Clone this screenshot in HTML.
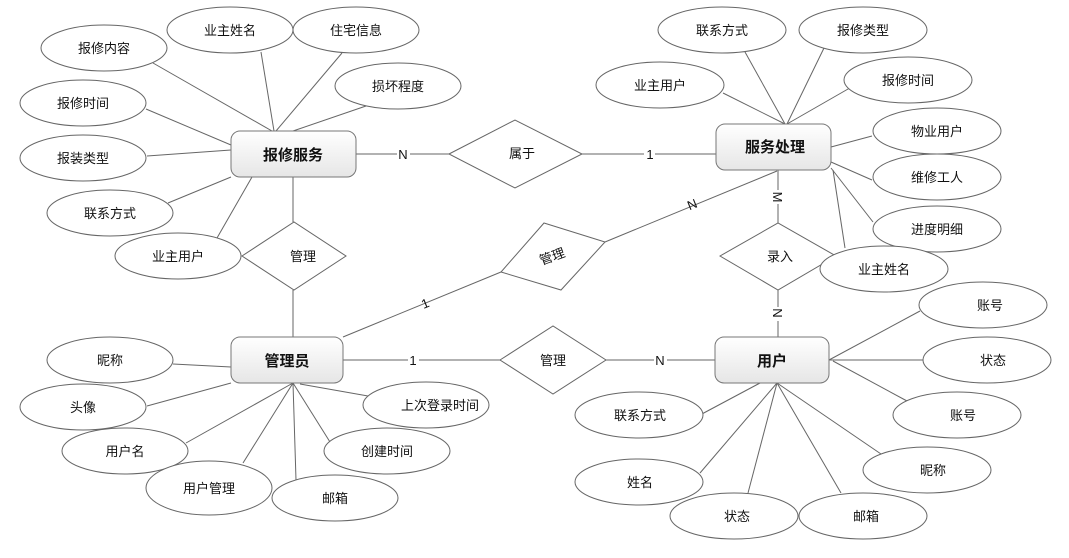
<!DOCTYPE html>
<html><head><meta charset="utf-8"><style>
html,body{margin:0;padding:0;background:#fff;}
svg{display:block;}
text{font-family:"Liberation Sans","Noto Sans CJK SC",sans-serif;font-size:13px;fill:#111;}
.b{font-size:15px;font-weight:bold;}
.e{fill:#fff;stroke:#666;stroke-width:1;}
.l{stroke:#666;stroke-width:1;fill:none;}
.r{fill:url(#g);stroke:#777;stroke-width:1;}
</style></head><body>
<svg width="1069" height="558" viewBox="0 0 1069 558" xmlns="http://www.w3.org/2000/svg">
<defs>
<linearGradient id="g" x1="0" y1="0" x2="0" y2="1"><stop offset="0" stop-color="#ffffff"/><stop offset="1" stop-color="#e6e6e6"/></linearGradient>
</defs>
<g class="l">
<line x1="153" y1="63" x2="272" y2="131"/>
<line x1="261" y1="52" x2="274" y2="131"/>
<line x1="342" y1="53" x2="276" y2="131"/>
<line x1="366" y1="106" x2="293" y2="131"/>
<line x1="146" y1="109" x2="231" y2="145"/>
<line x1="147" y1="156" x2="231" y2="150"/>
<line x1="168" y1="203" x2="231" y2="177"/>
<line x1="217" y1="238" x2="252" y2="177"/>
<line x1="293" y1="177" x2="293" y2="222"/>
<line x1="293" y1="290" x2="293" y2="337"/>
<line x1="356" y1="154" x2="449" y2="154"/>
<line x1="582" y1="154" x2="716" y2="154"/>
<line x1="723" y1="93" x2="785" y2="124"/>
<line x1="745" y1="52" x2="785" y2="124"/>
<line x1="824" y1="48" x2="787" y2="124"/>
<line x1="855" y1="85" x2="787" y2="124"/>
<line x1="872" y1="136" x2="831" y2="147"/>
<line x1="872" y1="180" x2="831" y2="162"/>
<line x1="873" y1="222" x2="831" y2="168"/>
<line x1="845" y1="248" x2="833" y2="170"/>
<line x1="778" y1="170" x2="778" y2="223"/>
<line x1="778" y1="290" x2="778" y2="337"/>
<line x1="605" y1="242" x2="777" y2="171"/>
<line x1="343" y1="337" x2="501" y2="272"/>
<line x1="343" y1="360" x2="500" y2="360"/>
<line x1="606" y1="360" x2="715" y2="360"/>
<line x1="173" y1="364" x2="231" y2="367"/>
<line x1="147" y1="406" x2="231" y2="383"/>
<line x1="186" y1="443" x2="293" y2="383"/>
<line x1="243" y1="463" x2="293" y2="383"/>
<line x1="296" y1="480" x2="293" y2="383"/>
<line x1="330" y1="442" x2="293" y2="383"/>
<line x1="368" y1="396" x2="300" y2="384"/>
<line x1="920" y1="311" x2="829" y2="360"/>
<line x1="923" y1="360" x2="829" y2="360"/>
<line x1="907" y1="401" x2="833" y2="361"/>
<line x1="881" y1="454" x2="777" y2="383"/>
<line x1="841" y1="493" x2="777" y2="383"/>
<line x1="748" y1="493" x2="777" y2="383"/>
<line x1="700" y1="473" x2="777" y2="383"/>
<line x1="700" y1="415" x2="760" y2="383"/>
</g>
<polygon class="e" points="449,154 515,120 582,154 515,188"/>
<polygon class="e" points="242,256 294,222 346,256 294,290"/>
<polygon class="e" points="544,223 605,242 561,290 501,272"/>
<polygon class="e" points="720,256 778,223 836,256 778,290"/>
<polygon class="e" points="500,360 553,326 606,360 553,394"/>
<text x="522" y="158" text-anchor="middle">属于</text>
<text x="303" y="261" text-anchor="middle">管理</text>
<text x="552" y="261" text-anchor="middle" transform="rotate(-20 552 256)">管理</text>
<text x="780" y="261" text-anchor="middle">录入</text>
<text x="553" y="365" text-anchor="middle">管理</text>
<rect x="397" y="146" width="13" height="14" fill="#fff"/><text x="403" y="159" text-anchor="middle">N</text>
<rect x="644" y="146" width="11" height="14" fill="#fff"/><text x="650" y="159" text-anchor="middle">1</text>
<rect x="408" y="352" width="11" height="14" fill="#fff"/><text x="413" y="365" text-anchor="middle">1</text>
<rect x="654" y="352" width="13" height="14" fill="#fff"/><text x="660" y="365" text-anchor="middle">N</text>
<rect x="771" y="190" width="14" height="14" fill="#fff"/><text x="778" y="202" text-anchor="middle" transform="rotate(90 778 197)">M</text>
<rect x="771" y="307" width="14" height="14" fill="#fff"/><text x="778" y="318" text-anchor="middle" transform="rotate(90 778 313)">N</text>
<text x="692" y="209" text-anchor="middle" transform="rotate(-22 692 204)">N</text>
<text x="425" y="308" text-anchor="middle" transform="rotate(-22 425 303)">1</text>
<ellipse class="e" cx="104" cy="48" rx="63" ry="23"/><text x="104" y="53" text-anchor="middle">报修内容</text>
<ellipse class="e" cx="230" cy="30" rx="63" ry="23"/><text x="230" y="35" text-anchor="middle">业主姓名</text>
<ellipse class="e" cx="356" cy="30" rx="63" ry="23"/><text x="356" y="35" text-anchor="middle">住宅信息</text>
<ellipse class="e" cx="398" cy="86" rx="63" ry="23"/><text x="398" y="91" text-anchor="middle">损坏程度</text>
<ellipse class="e" cx="83" cy="103" rx="63" ry="23"/><text x="83" y="108" text-anchor="middle">报修时间</text>
<ellipse class="e" cx="83" cy="158" rx="63" ry="23"/><text x="83" y="163" text-anchor="middle">报装类型</text>
<ellipse class="e" cx="110" cy="213" rx="63" ry="23"/><text x="110" y="218" text-anchor="middle">联系方式</text>
<ellipse class="e" cx="178" cy="256" rx="63" ry="23"/><text x="178" y="261" text-anchor="middle">业主用户</text>
<ellipse class="e" cx="722" cy="30" rx="64" ry="23"/><text x="722" y="35" text-anchor="middle">联系方式</text>
<ellipse class="e" cx="863" cy="30" rx="64" ry="23"/><text x="863" y="35" text-anchor="middle">报修类型</text>
<ellipse class="e" cx="660" cy="85" rx="64" ry="23"/><text x="660" y="90" text-anchor="middle">业主用户</text>
<ellipse class="e" cx="908" cy="80" rx="64" ry="23"/><text x="908" y="85" text-anchor="middle">报修时间</text>
<ellipse class="e" cx="937" cy="131" rx="64" ry="23"/><text x="937" y="136" text-anchor="middle">物业用户</text>
<ellipse class="e" cx="937" cy="177" rx="64" ry="23"/><text x="937" y="182" text-anchor="middle">维修工人</text>
<ellipse class="e" cx="937" cy="229" rx="64" ry="23"/><text x="937" y="234" text-anchor="middle">进度明细</text>
<ellipse class="e" cx="884" cy="269" rx="64" ry="23"/><text x="884" y="274" text-anchor="middle">业主姓名</text>
<ellipse class="e" cx="110" cy="360" rx="63" ry="23"/><text x="110" y="365" text-anchor="middle">昵称</text>
<ellipse class="e" cx="83" cy="407" rx="63" ry="23"/><text x="83" y="412" text-anchor="middle">头像</text>
<ellipse class="e" cx="125" cy="451" rx="63" ry="23"/><text x="125" y="456" text-anchor="middle">用户名</text>
<ellipse class="e" cx="209" cy="488" rx="63" ry="27"/><text x="209" y="493" text-anchor="middle">用户管理</text>
<ellipse class="e" cx="335" cy="498" rx="63" ry="23"/><text x="335" y="503" text-anchor="middle">邮箱</text>
<ellipse class="e" cx="387" cy="451" rx="63" ry="23"/><text x="387" y="456" text-anchor="middle">创建时间</text>
<ellipse class="e" cx="426" cy="405" rx="63" ry="23"/><text x="440" y="410" text-anchor="middle">上次登录时间</text>
<ellipse class="e" cx="983" cy="305" rx="64" ry="23"/><text x="990" y="310" text-anchor="middle">账号</text>
<ellipse class="e" cx="987" cy="360" rx="64" ry="23"/><text x="993" y="365" text-anchor="middle">状态</text>
<ellipse class="e" cx="957" cy="415" rx="64" ry="23"/><text x="963" y="420" text-anchor="middle">账号</text>
<ellipse class="e" cx="927" cy="470" rx="64" ry="23"/><text x="933" y="475" text-anchor="middle">昵称</text>
<ellipse class="e" cx="863" cy="516" rx="64" ry="23"/><text x="866" y="521" text-anchor="middle">邮箱</text>
<ellipse class="e" cx="734" cy="516" rx="64" ry="23"/><text x="737" y="521" text-anchor="middle">状态</text>
<ellipse class="e" cx="639" cy="482" rx="64" ry="23"/><text x="640" y="487" text-anchor="middle">姓名</text>
<ellipse class="e" cx="639" cy="415" rx="64" ry="23"/><text x="640" y="420" text-anchor="middle">联系方式</text>
<rect class="r" x="231" y="131" width="125" height="46" rx="9"/><text class="b" x="293" y="160" text-anchor="middle">报修服务</text>
<rect class="r" x="716" y="124" width="115" height="46" rx="9"/><text class="b" x="775" y="152" text-anchor="middle">服务处理</text>
<rect class="r" x="231" y="337" width="112" height="46" rx="9"/><text class="b" x="287" y="366" text-anchor="middle">管理员</text>
<rect class="r" x="715" y="337" width="114" height="46" rx="9"/><text class="b" x="772" y="366" text-anchor="middle">用户</text>
</svg>
</body></html>
